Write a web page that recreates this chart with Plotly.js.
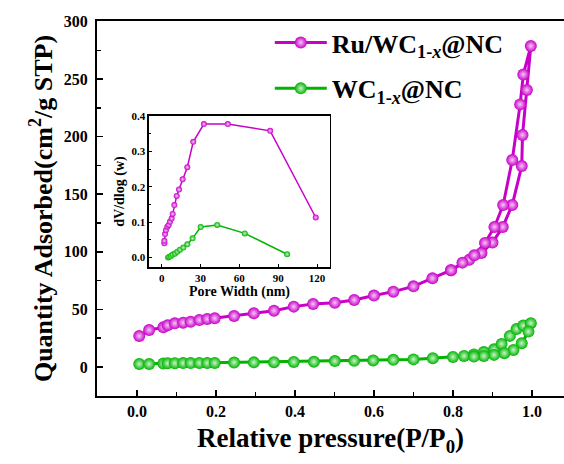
<!DOCTYPE html>
<html>
<head>
<meta charset="utf-8">
<script src="https://cdn.plot.ly/plotly-3.0.1.min.js"></script>
<style>html,body{margin:0;padding:0;background:#fff;}#chart{width:564px;height:464px;}</style>
</head>
<body>
<div id="chart"></div>
<script>
// Main isotherm: Ru/WC1-x@NC
const ruAdsX = [0.006, 0.031, 0.067, 0.078, 0.096, 0.117, 0.136, 0.158, 0.178, 0.197, 0.246, 0.296, 0.347, 0.397, 0.446, 0.501, 0.55, 0.6, 0.649, 0.7, 0.748, 0.795, 0.841, 0.872, 0.9, 0.926, 0.95, 0.974, 0.976, 0.987, 0.997];
const ruAdsY = [26.9, 32.1, 34.4, 36.2, 37.9, 38.5, 39.3, 40.8, 41.7, 42.3, 44.3, 46.6, 48.9, 52.4, 54.7, 55.8, 58.2, 62, 65.4, 70, 77, 84, 93, 99, 108, 121.6, 140.7, 174.5, 201.4, 240.5, 278.7];
const ruDesX = [0.978, 0.97, 0.95, 0.927, 0.905, 0.881, 0.854, 0.824, 0.795];
const ruDesY = [254, 228, 179.7, 140.7, 121.6, 107.7, 97, 90.6, 84];
// Main isotherm: WC1-x@NC
const wcAdsX = [0.006, 0.031, 0.067, 0.078, 0.096, 0.117, 0.136, 0.158, 0.178, 0.197, 0.246, 0.296, 0.347, 0.397, 0.448, 0.501, 0.55, 0.598, 0.649, 0.7, 0.749, 0.8, 0.828, 0.853, 0.878, 0.904, 0.923, 0.944, 0.961, 0.978, 0.997];
const wcAdsY = [2.6, 2.6, 3.0, 3.2, 3.3, 3.4, 3.4, 3.5, 3.5, 3.5, 3.9, 4.0, 4.2, 4.4, 4.6, 5.1, 5.3, 5.6, 6.2, 6.6, 7.6, 8.7, 9.6, 10.9, 13.0, 15.3, 20.0, 27, 33, 36, 38];
const wcDesX = [0.991, 0.974, 0.953, 0.93, 0.904, 0.878, 0.853];
const wcDesY = [30.7, 20.6, 14.8, 12, 10.5, 9.5, 9];
// Inset: pore size distribution
const ruPoreX = [2.1, 2.1, 2.6, 3.3, 4.4, 5.4, 6.4, 7.7, 8.5, 9.8, 11.6, 13.4, 16.2, 19.8, 24.4, 32.6, 51.1, 83.8, 119];
const ruPoreY = [0.040, 0.047, 0.066, 0.077, 0.087, 0.092, 0.101, 0.110, 0.123, 0.148, 0.174, 0.192, 0.221, 0.255, 0.327, 0.377, 0.377, 0.358, 0.113];
const wcPoreX = [5.0, 5.9, 7.2, 8.5, 10.3, 12.1, 14.1, 16.7, 19.8, 23.9, 30.1, 42.9, 64.2, 96.9];
const wcPoreY = [0.0, 0.002, 0.004, 0.008, 0.011, 0.016, 0.022, 0.028, 0.037, 0.054, 0.086, 0.092, 0.068, 0.009];
// Labels
const ruName = 'Ru/WC<sub>1-<i>x</i></sub>@NC';
const wcName = 'WC<sub>1-<i>x</i></sub>@NC';
const mainXTicks = [0, 0.2, 0.4, 0.6, 0.8, 1.0];
const mainXTickText = ['0.0', '0.2', '0.4', '0.6', '0.8', '1.0'];
const mainYTicks = [0, 50, 100, 150, 200, 250, 300];
const insetXTicks = [0, 30, 60, 90, 120];
const insetYTicks = [0, 0.1, 0.2, 0.3, 0.4];
const insetYTickText = ['0.0', '0.1', '0.2', '0.3', '0.4'];

const MAG = '#c800c8';
const GRN = '#00b400';
const FONT = 'Liberation Serif, Times New Roman, serif';

const traces = [
  {x: ruAdsX.concat(ruDesX), y: ruAdsY.concat(ruDesY), type: 'scatter', mode: 'lines+markers', name: ruName,
   legendgroup: 'a', line: {color: MAG, width: 3},
   marker: {color: MAG, size: 12, gradient: {type: 'radial', color: '#f6c8f6'}}},
  {x: wcAdsX.concat(wcDesX), y: wcAdsY.concat(wcDesY), type: 'scatter', mode: 'lines+markers', name: wcName,
   legendgroup: 'b', line: {color: GRN, width: 3},
   marker: {color: GRN, size: 12, gradient: {type: 'radial', color: '#c8f5c8'}}},
  {x: ruPoreX, y: ruPoreY, xaxis: 'x2', yaxis: 'y2', type: 'scatter', mode: 'lines+markers', showlegend: false,
   line: {color: MAG, width: 1.5}, marker: {color: MAG, size: 6, gradient: {type: 'radial', color: '#f6c8f6'}}},
  {x: wcPoreX, y: wcPoreY, xaxis: 'x2', yaxis: 'y2', type: 'scatter', mode: 'lines+markers', showlegend: false,
   line: {color: GRN, width: 1.5}, marker: {color: GRN, size: 6, gradient: {type: 'radial', color: '#c8f5c8'}}}
];

const axisCommon = {showline: true, linecolor: '#000', linewidth: 2, mirror: true, ticks: 'inside',
  tickcolor: '#000', tickwidth: 1.5, showgrid: false, zeroline: false};

const layout = {
  width: 564, height: 464,
  margin: {l: 97, r: 0, t: 21, b: 68},
  paper_bgcolor: '#fff', plot_bgcolor: '#fff',
  font: {family: FONT, color: '#000'},
  showlegend: true,
  legend: {x: 0.37, y: 1.005, xanchor: 'left', yanchor: 'top', bgcolor: 'rgba(0,0,0,0)',
    font: {family: FONT, size: 26, color: '#000', weight: 'bold'}, traceorder: 'grouped', tracegroupgap: 9,
    itemwidth: 52},
  xaxis: Object.assign({}, axisCommon, {range: [-0.101, 1.081], tickvals: mainXTicks, ticktext: mainXTickText, ticklen: 6,
    tickfont: {family: FONT, size: 16, weight: 'bold'},
    minor: {dtick: 0.1, tick0: 0, ticks: 'inside', ticklen: 4, tickcolor: '#000', tickwidth: 1.5},
    title: {text: 'Relative pressure(P/P<sub>0</sub>)', font: {family: FONT, size: 27, weight: 'bold'}, standoff: 9}}),
  yaxis: Object.assign({}, axisCommon, {range: [-25.2, 300.4], tickvals: mainYTicks, ticklen: 6, ticklabelstandoff: 4,
    tickfont: {family: FONT, size: 16, weight: 'bold'},
    minor: {dtick: 25, tick0: 0, ticks: 'inside', ticklen: 4, tickcolor: '#000', tickwidth: 1.5},
    title: {text: 'Quantity Adsorbed(cm<sup>2</sup>/g STP)', font: {family: FONT, size: 26, weight: 'bold'}, standoff: 4}}),
  xaxis2: Object.assign({}, axisCommon, {domain: [0.1113, 0.4989], anchor: 'y2', range: [-9.8, 130], linewidth: 1.5,
    tickvals: insetXTicks, ticklen: 3, tickwidth: 1,
    tickfont: {family: FONT, size: 11, weight: 'bold'},
    title: {text: 'Pore Width (nm)', font: {family: FONT, size: 14, weight: 'bold'}, standoff: 1}}),
  yaxis2: Object.assign({}, axisCommon, {domain: [0.344, 0.7467], anchor: 'x2', range: [-0.027, 0.4], linewidth: 1.5,
    tickvals: insetYTicks, ticktext: insetYTickText, ticklen: 3, tickwidth: 1,
    tickfont: {family: FONT, size: 11, weight: 'bold'},
    minor: {dtick: 0.05, tick0: 0, ticks: 'inside', ticklen: 2, tickcolor: '#000', tickwidth: 1},
    title: {text: 'dV/dlog (w)', font: {family: FONT, size: 14, weight: 'bold'}, standoff: 3}})
};

Plotly.newPlot('chart', traces, layout, {staticPlot: true, displayModeBar: false});
</script>
</body>
</html>
